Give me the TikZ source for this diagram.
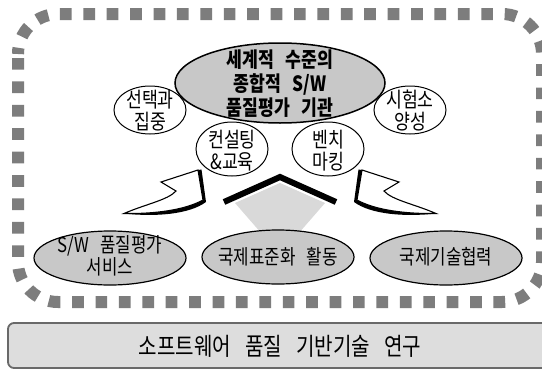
\documentclass[tikz,border=0pt]{standalone}
\usepackage{fontspec}
\newfontfamily\kr[FakeStretch=0.82,WordSpace=3]{Noto Sans CJK KR}
\definecolor{dashgray}{RGB}{125,125,125}
\definecolor{ellfill}{RGB}{200,200,200}
\definecolor{funnelgray}{RGB}{217,217,217}
\definecolor{boxfill}{RGB}{221,221,221}
\definecolor{boxline}{RGB}{105,105,105}
\begin{document}
\begin{tikzpicture}[x=1pt,y=-1pt,
  txt/.style={font={\kr\fontsize{21}{22}\selectfont}, align=center, inner sep=0pt},
  bigtxt/.style={font={\kr\bfseries\fontsize{21}{24}\selectfont}, align=center, inner sep=0pt},
  lowtxt/.style={font={\kr\fontsize{20.5}{20}\selectfont}, align=center, inner sep=0pt},
  whiteell/.style={draw=black, line width=1, fill=white},
  grayell/.style={draw=black, line width=1.2, fill=ellfill},
  arrowbody/.style={draw=black, line width=1.1, fill=white, line join=miter},
  arrowshade/.style={fill=black}]
\useasboundingbox (0,0) rectangle (542,370);
\clip (0,0) rectangle (542,370);
\fill[white] (0,0) rectangle (542,370);

% dotted frame
\draw[dashgray, line width=12, dash pattern=on 11.7 off 11.71, dash phase=-4, rounded corners=40]
  (18,14) rectangle (542,302);

% funnel under the chevron
\fill[funnelgray] (235,203) -- (280,183) -- (325,203) -- (298,234) -- (262,234) -- cycle;

% small white ellipses
\draw[whiteell] (150,110) ellipse [x radius=36, y radius=24];
\node[txt] (sel) at (150,111) {선택과\\집중};
\draw[whiteell] (410,110) ellipse [x radius=36, y radius=24];
\node[txt] (lab) at (410,111) {시험소\\양성};
\draw[whiteell] (232,149) ellipse [x radius=36, y radius=27];
\node[txt] (con) at (232,151) {컨설팅\\\&교육};
\draw[whiteell] (328,149) ellipse [x radius=36, y radius=27];
\node[txt] (ben) at (328,151) {벤치\\마킹};

% central goal
\draw[grayell, line width=1.5] (280,83) ellipse [x radius=105, y radius=40];
\node[bigtxt] (goal) at (280,84) {세계적 수준의\\종합적 S/W\\품질평가 기관};

% chevron
\draw[line width=6, line join=miter] (224,202) -- (280,177) -- (336,202);

% left curved arrow
\begin{scope}
  \fill[arrowshade] (198,170) -- (201.5,169.5) -- (206,202)
    .. controls (189,214.5) and (155,217) .. (124,213.5)
    .. controls (155,214) and (185,210) .. (203,200) -- cycle;
  \draw[arrowbody] (124,213.5) .. controls (146,204) and (168,200) .. (176,191)
    -- (161,182) -- (198,170) -- (203,200)
    .. controls (185,210) and (155,214) .. (124,213.5) -- cycle;
\end{scope}
% right curved arrow (mirror)
\begin{scope}[xshift=560, xscale=-1]
  \fill[arrowshade] (198,170) -- (201.5,169.5) -- (206,202)
    .. controls (189,214.5) and (155,217) .. (124,213.5)
    .. controls (155,214) and (185,210) .. (203,200) -- cycle;
  \draw[arrowbody] (124,213.5) .. controls (146,204) and (168,200) .. (176,191)
    -- (161,182) -- (198,170) -- (203,200)
    .. controls (185,210) and (155,214) .. (124,213.5) -- cycle;
\end{scope}

% lower gray ellipses
\draw[grayell] (110,258) ellipse [x radius=76, y radius=27];
\node[lowtxt] (svc) at (110,256) {S/W 품질평가\\서비스};
\draw[grayell] (278,257) ellipse [x radius=76, y radius=27];
\node[lowtxt] (std) at (278,257) {국제표준화 활동};
\draw[grayell] (446,258) ellipse [x radius=76, y radius=27];
\node[lowtxt] (coop) at (446,257) {국제기술협력};

% base bar
\draw[boxline, fill=boxfill, line width=1.8, rounded corners=6] (8,323) rectangle (552,368);
\node[txt, font={\kr\fontsize{24.5}{25}\selectfont}] (base) at (280,346)
  {소프트웨어\hspace{14pt}품질\hspace{14pt}기반기술\hspace{14pt}연구};
\end{tikzpicture}
\end{document}
